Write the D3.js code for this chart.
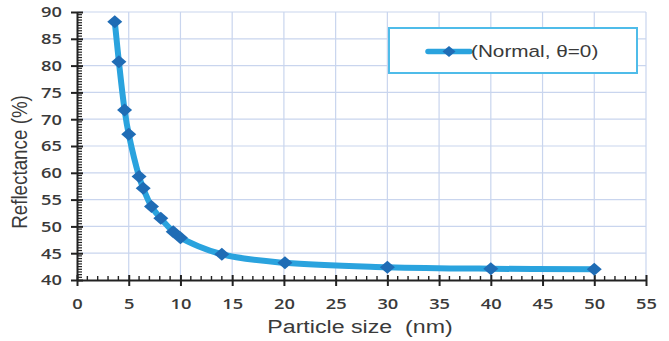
<!DOCTYPE html>
<html>
<head>
<meta charset="utf-8">
<script src="https://cdn.jsdelivr.net/npm/d3@7"></script>
<style>
  body { margin: 0; background: #fff; }
  svg { display: block; }
</style>
</head>
<body>
<div id="chart"></div>
<script>
// particle size (nm) vs reflectance (%)
const sizes = [3.65, 4.05, 4.6, 5.0, 6.0, 6.4, 7.2, 8.1, 9.3, 10.0, 14.0, 20.1, 30.0, 40.0, 50.0];
const reflectance = [88.2, 80.7, 71.7, 67.2, 59.3, 57.1, 53.7, 51.5, 49.0, 47.9, 44.8, 43.2, 42.4, 42.1, 42.0];
const xTicks = [0, 5, 10, 15, 20, 25, 30, 35, 40, 45, 50, 55];
const yTicks = [40, 45, 50, 55, 60, 65, 70, 75, 80, 85, 90];
const seriesName = "(Normal, θ=0)";

const W = 669, H = 341;
let margin = {top: 12, right: 23, bottom: 61, left: 77},
    width = W - margin.left - margin.right,
    height = H - margin.top - margin.bottom;

// the source picture is a bit wider than tall, text looks stretched
const stretch = 1.22;

const svg = d3.select("#chart")
  .append("svg")
    .attr("width", W)
    .attr("height", H)
  .append("g")
    .attr("transform", `translate(${margin.left},${margin.top})`);

let x = d3.scaleLinear().domain([0, 55]).range([0, width]);
let y = d3.scaleLinear().domain([40, 90]).range([height, 0]);

const gridColor = "#c9d5ee";
const textColor = "#3a3a3a";

// grid
svg.append("g")
  .selectAll("line")
  .data(yTicks.filter(d => d > 40))
  .join("line")
    .attr("x1", 0).attr("x2", width)
    .attr("y1", d => y(d)).attr("y2", d => y(d))
    .attr("stroke", gridColor).attr("stroke-width", 1.2);

svg.append("g")
  .selectAll("line")
  .data(xTicks.filter(d => d > 0))
  .join("line")
    .attr("x1", d => x(d)).attr("x2", d => x(d))
    .attr("y1", 0).attr("y2", height)
    .attr("stroke", gridColor).attr("stroke-width", 1.2);

// minor ticks
const xMinor = d3.range(1, 55).filter(d => d % 5 !== 0);
const yMinor = d3.range(40.5, 90, 0.5).filter(d => d % 5 !== 0);

svg.append("g")
  .selectAll("line")
  .data(xMinor)
  .join("line")
    .attr("x1", d => x(d)).attr("x2", d => x(d))
    .attr("y1", height - 4).attr("y2", height)
    .attr("stroke", "#222").attr("stroke-width", 1.4);

svg.append("g")
  .selectAll("line")
  .data(yMinor)
  .join("line")
    .attr("x1", 0).attr("x2", 5)
    .attr("y1", d => y(d)).attr("y2", d => y(d))
    .attr("stroke", "#222").attr("stroke-width", 1.2);

// axes
let xAxis = g => g
    .attr("transform", `translate(0,${height})`)
    .call(d3.axisBottom(x).tickValues(xTicks).tickSizeInner(6).tickSizeOuter(0).tickPadding(12))
    .call(g => g.select(".domain").attr("stroke", "#222").attr("stroke-width", 2))
    .call(g => g.selectAll(".tick line").clone().attr("y2", -5))
    .call(g => g.selectAll(".tick line").attr("stroke", "#222").attr("stroke-width", 2))
    .call(g => g.selectAll("text")
        .attr("transform", `scale(${stretch},1)`)
        .attr("fill", textColor)
        .attr("font-family", "'Open Sans', sans-serif")
        .attr("font-weight", "600")
        .attr("font-size", 15));

let yAxis = g => g
    .call(d3.axisLeft(y).tickValues(yTicks).tickSizeInner(6).tickSizeOuter(0))
    .call(g => g.select(".domain").attr("stroke", "#222").attr("stroke-width", 2))
    .call(g => g.selectAll(".tick line").clone().attr("x2", 6))
    .call(g => g.selectAll(".tick line").attr("stroke", "#222").attr("stroke-width", 2))
    .call(g => g.selectAll("text")
        .attr("x", 0)
        .attr("transform", `translate(-15,0) scale(${stretch},1)`)
        .attr("fill", textColor)
        .attr("font-family", "'Open Sans', sans-serif")
        .attr("font-weight", "600")
        .attr("font-size", 15));

svg.append("g").call(xAxis);
svg.append("g").call(yAxis);

// axis titles
svg.append("g")
    .attr("transform", `translate(${360 - margin.left},${height + 53}) scale(${stretch},1)`)
  .append("text")
    .attr("text-anchor", "middle")
    .attr("font-family", "'Liberation Sans', Arial, sans-serif")
    .attr("font-size", 19)
    .attr("fill", textColor)
    .attr("xml:space", "preserve")
    .text("Particle size  (nm)");

svg.append("g")
    .attr("transform", `translate(${27 - margin.left},${162 - margin.top}) scale(${stretch},1) rotate(-90)`)
  .append("text")
    .attr("text-anchor", "middle")
    .attr("font-family", "'Liberation Sans', Arial, sans-serif")
    .attr("font-size", 18.8)
    .attr("fill", textColor)
    .text("Reflectance (%)");

// series
const data = sizes.map((s, i) => ({s, r: reflectance[i]}));
const lineColor = "#2aa3de", markColor = "#1f6cb5";

let line = d3.line()
    .x(d => x(d.s))
    .y(d => y(d.r))
    .curve(d3.curveCatmullRom);

svg.append("path")
    .datum(data)
    .attr("d", line)
    .attr("fill", "none")
    .attr("stroke", lineColor)
    .attr("stroke-width", 6)
    .attr("stroke-linejoin", "round");

const diamond = "M0,-6.5L7.5,0L0,6.5L-7.5,0Z";

svg.append("g")
  .selectAll("path")
  .data(data)
  .join("path")
    .attr("transform", d => `translate(${x(d.s)},${y(d.r)})`)
    .attr("d", diamond)
    .attr("fill", markColor);

// legend
const legend = svg.append("g")
    .attr("transform", `translate(${389 - margin.left},${28 - margin.top})`);

legend.append("rect")
    .attr("width", 248)
    .attr("height", 45)
    .attr("fill", "#fff")
    .attr("stroke", "#4fbce9")
    .attr("stroke-width", 2);

legend.append("line")
    .attr("x1", 39).attr("x2", 81)
    .attr("y1", 23.5).attr("y2", 23.5)
    .attr("stroke", lineColor)
    .attr("stroke-width", 5.5)
    .attr("stroke-linecap", "round");

legend.append("path")
    .attr("transform", "translate(60,23.5)")
    .attr("d", "M0,-5.5L6.5,0L0,5.5L-6.5,0Z")
    .attr("fill", markColor);

legend.append("g")
    .attr("transform", `translate(82,23.5) scale(${stretch},1)`)
  .append("text")
    .attr("dy", "0.35em")
    .attr("font-family", "'Liberation Sans', Arial, sans-serif")
    .attr("font-size", 17)
    .attr("fill", textColor)
    .text(seriesName);
</script>
</body>
</html>
